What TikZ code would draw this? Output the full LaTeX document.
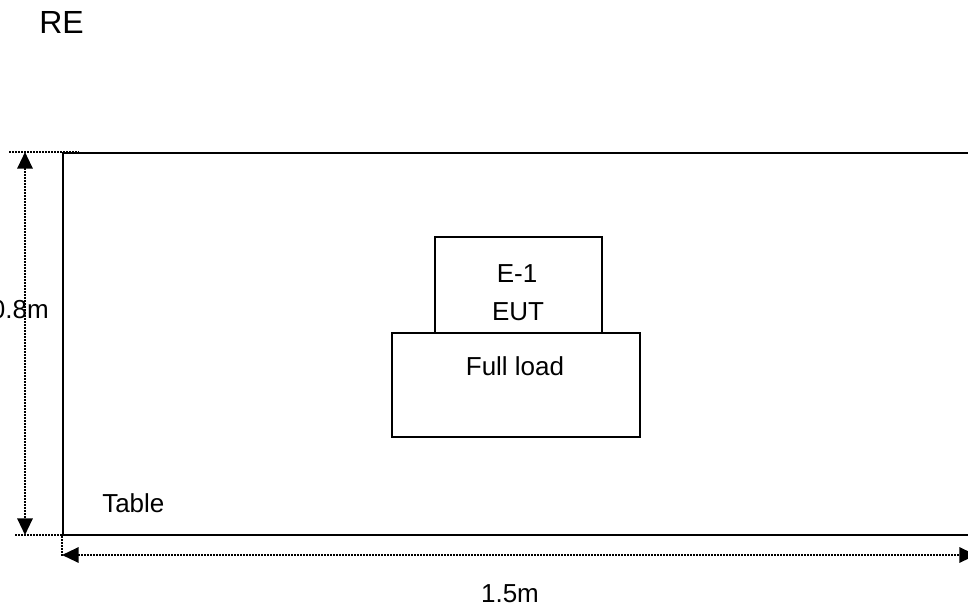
\documentclass[tikz,border=0pt]{standalone}
\usepackage{fontspec}
\setmainfont{Liberation Sans}
\usetikzlibrary{arrows.meta}
\begin{document}
\begin{tikzpicture}[x=0.75pt,y=-0.75pt,
  box/.style={draw,line width=1pt,inner sep=0pt},
  tablebox/.style={draw,line width=1.4pt,inner sep=0pt},
  dim/.style={line width=1.6pt,dash pattern=on 1.15pt off 1.1pt},
  dimarrow/.style={dim,{Triangle[length=12.5pt,width=11.5pt]}-{Triangle[length=12.5pt,width=11.5pt]}},
  lbl/.style={font=\fontsize{19.5}{23}\selectfont,inner sep=0pt,anchor=base},
]
\useasboundingbox (0,0) rectangle (968,607);
\node[tablebox, minimum width=940*0.75pt, minimum height=382*0.75pt, anchor=north west] (table) at (62,152) {};
\node[box, minimum width=167*0.75pt, minimum height=96*0.75pt] (eut) at (518.5,285) {};
\node[box, minimum width=248*0.75pt, minimum height=104*0.75pt] (load) at (516,385) {};
\node[lbl] (e1) at (517,282) {E-1};
\node[lbl] (eutt) at (518,320) {EUT};
\node[lbl] (fl) at (515,375) {Full load};
\node[lbl,anchor=base west] (tbl) at (102,512) {Table};
\node[lbl,anchor=base east] (h) at (49,318) {0.8m};
\node[lbl] (w) at (510,602) {1.5m};
\node[font=\fontsize{24}{28}\selectfont, inner sep=0pt, anchor=base west] (re) at (39,33) {RE};
% dimension lines
\coordinate (exta) at (9,152);
\coordinate (extb) at (79,152);
\coordinate (extc) at (15,535);
\coordinate (extd) at (62,535);
\coordinate (exte) at (62,556);
\coordinate (vtop) at (25,152);
\coordinate (vbot) at (25,535);
\coordinate (hl) at (62,555);
\coordinate (hr) at (976,555);
\draw[dim] (exta) -- (extb);
\draw[dim] (extc) -- (extd) -- (exte);
\draw[dimarrow] (vtop) -- (vbot);
\draw[dimarrow] (hl) -- (hr);
\end{tikzpicture}
\end{document}
